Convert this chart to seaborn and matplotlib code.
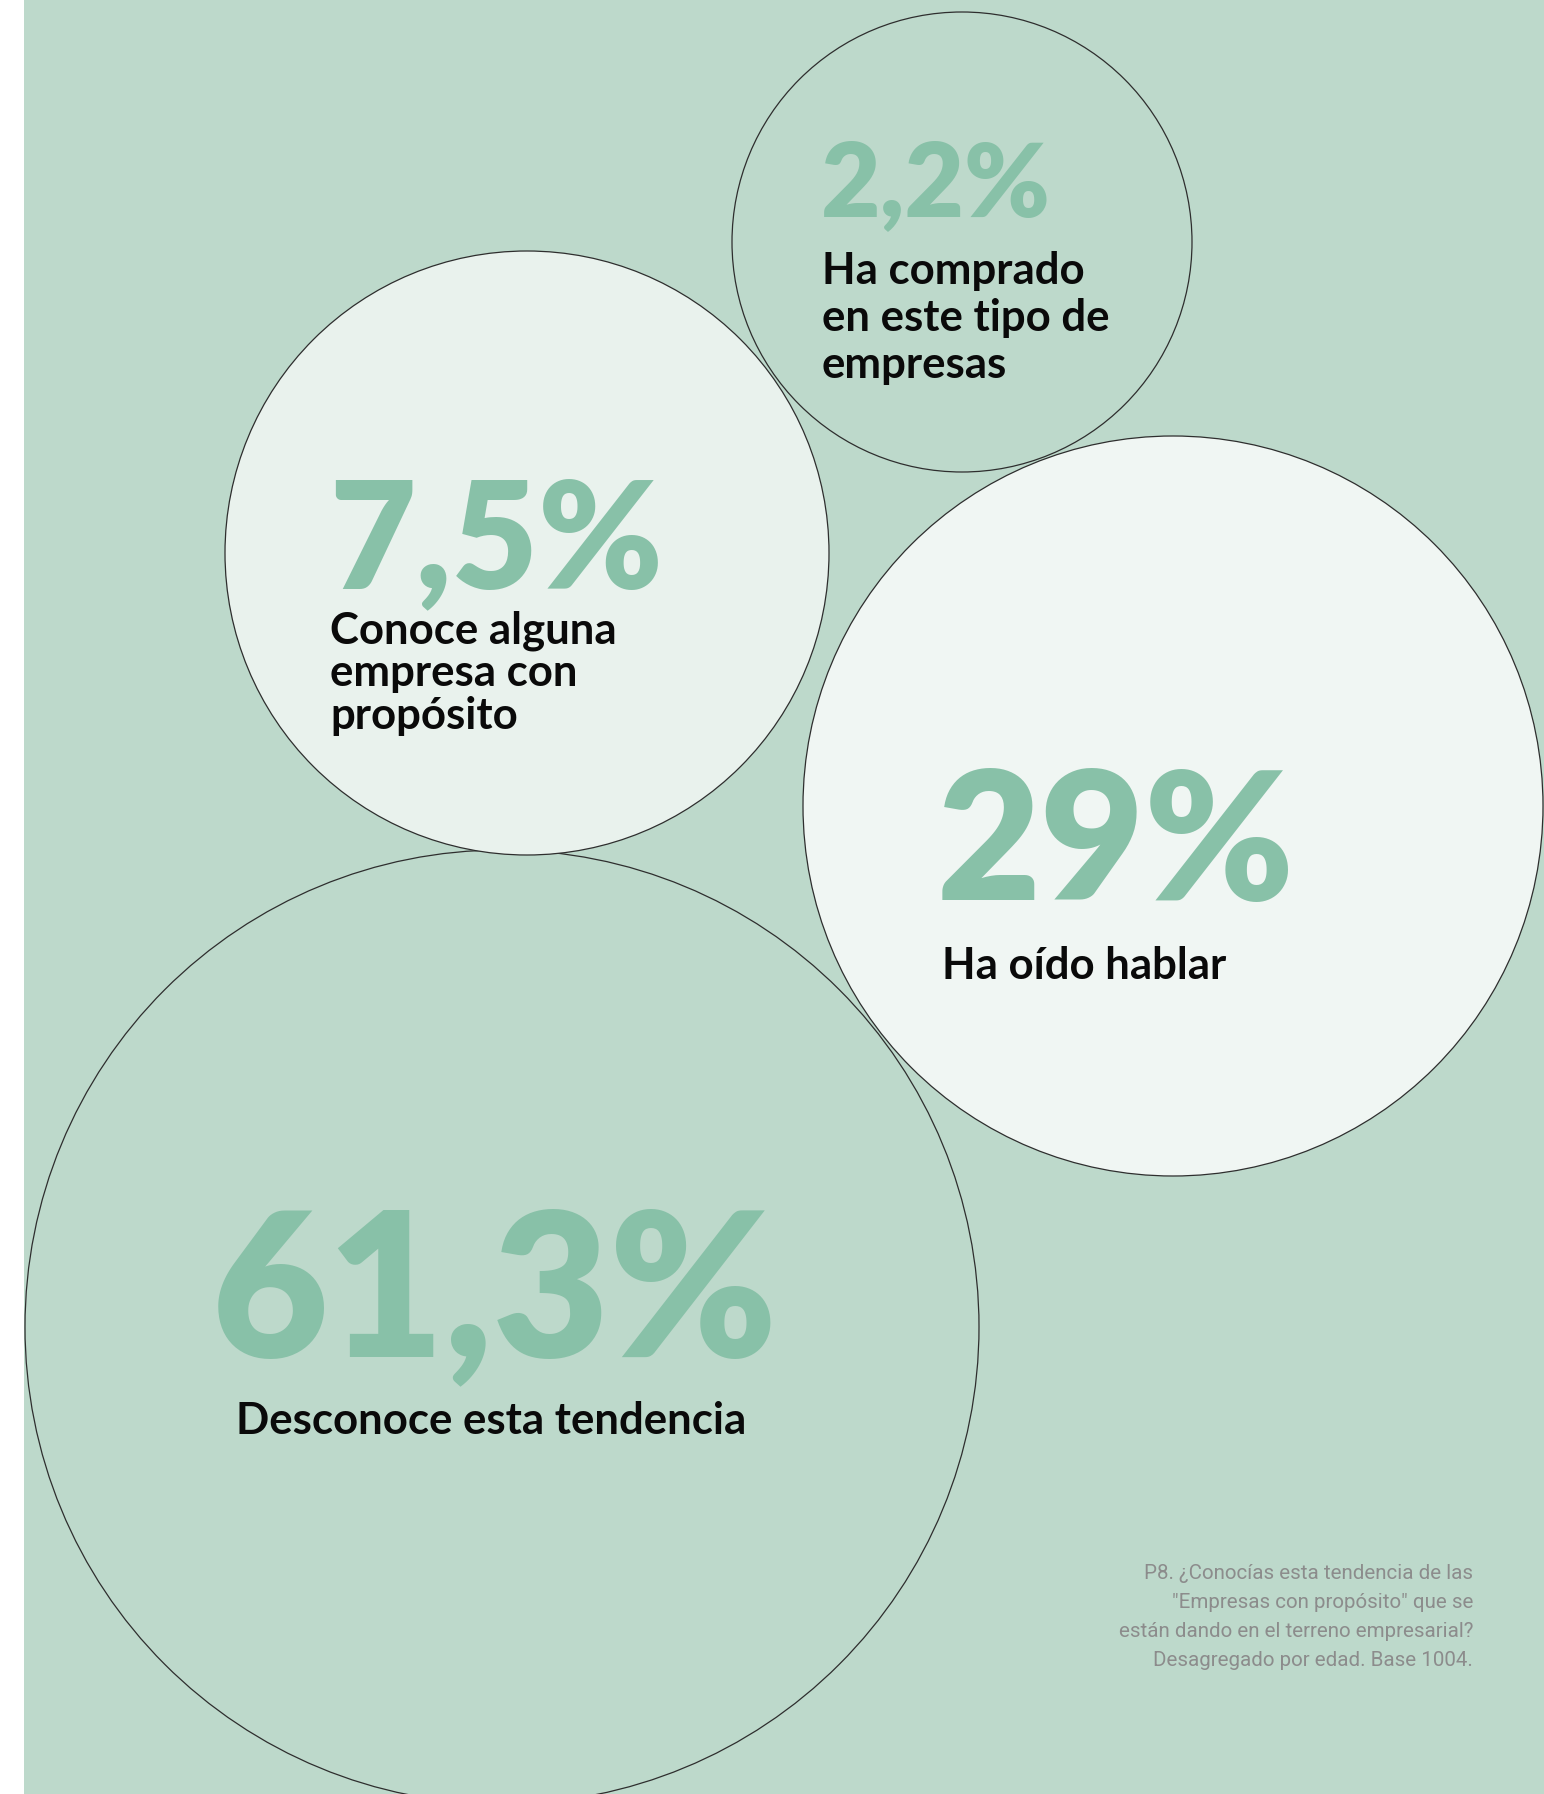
import matplotlib
matplotlib.use("Agg")
import matplotlib.pyplot as plt
from matplotlib.patches import Circle, Rectangle
import seaborn as sns

# ---- data ----
values = [2.2, 7.5, 29, 61.3]
labels = [
    ["Ha comprado", "en este tipo de", "empresas"],
    ["Conoce alguna", "empresa con", "propósito"],
    ["Ha oído hablar"],
    ["Desconoce esta tendencia"],
]
note_lines = [
    "P8. ¿Conocías esta tendencia de las",
    "\"Empresas con propósito\" que se",
    "están dando en el terreno empresarial?",
    "Desagregado por edad. Base 1004.",
]

# ---- layout (pixel space) ----
W, H = 1544, 1794
centers = [(962, 242), (527, 553), (1173, 806), (502, 1327)]
radii = [230, 302, 370, 477]
fills = ["#BDD9CB", "#E9F2ED", "#F0F6F3", "#BDD9CB"]
num_left = [821, 329, 937, 212]
num_base = [216, 588, 900, 1356]
num_width = [230, 334, 358, 566]
lab_left = [822, 330, 942, 236]
lab_base = [284, 643, 979, 1434]
lab_step = [47, 43, 0, 0]

BG = "#BDD9CB"
GREEN = "#88C1A8"
EDGE = "#2E2E2E"

sns.set_theme(style="white")
plt.rcParams["font.family"] = ["Lato", "DejaVu Sans"]

fig = plt.figure(figsize=(W / 100, H / 100), dpi=100)
fig.patch.set_facecolor("white")
ax = fig.add_axes([0, 0, 1, 1])
ax.set_xlim(0, W)
ax.set_ylim(H, 0)
ax.set_aspect("equal")
ax.axis("off")

ax.add_patch(Rectangle((24, 0), W - 24, H, facecolor=BG, edgecolor="none", zorder=0))

# background-coloured circles first, lighter ones on top
order = [3, 0, 1, 2]
for i in order:
    ax.add_patch(Circle(centers[i], radii[i], facecolor=fills[i], edgecolor=EDGE,
                        linewidth=0.9, zorder=1 + order.index(i)))


def fmt(v):
    if float(v).is_integer():
        return f"{int(v)}%"
    return f"{v:.1f}".replace(".", ",") + "%"


renderer = fig.canvas.get_renderer()


def fit_text(x, y, s, width, **kw):
    t = ax.text(x, y, s, fontsize=100, **kw)
    w = t.get_window_extent(renderer).width
    t.set_fontsize(100 * width / w)
    return t


# label font size fitted on the single-line label of the big circle
probe = ax.text(0, 0, labels[3][0], fontsize=100, fontweight="bold")
lab_fs = 100 * 510 / probe.get_window_extent(renderer).width
probe.remove()

for i, v in enumerate(values):
    fit_text(num_left[i], num_base[i], fmt(v), num_width[i], color=GREEN,
             fontweight="heavy", ha="left", va="baseline", zorder=10)
    for j, line in enumerate(labels[i]):
        ax.text(lab_left[i], lab_base[i] + j * lab_step[i], line, fontsize=lab_fs,
                fontweight="bold", color="#0A0A0A", ha="left", va="baseline", zorder=10)

for j, line in enumerate(note_lines):
    ax.text(1473, 1579 + j * 29, line, fontsize=14.8, family=["Roboto", "DejaVu Sans"],
            fontweight="normal", color="#8C8C8C", ha="right", va="baseline", zorder=10)

fig.savefig("out.png", dpi=100, facecolor="white")
